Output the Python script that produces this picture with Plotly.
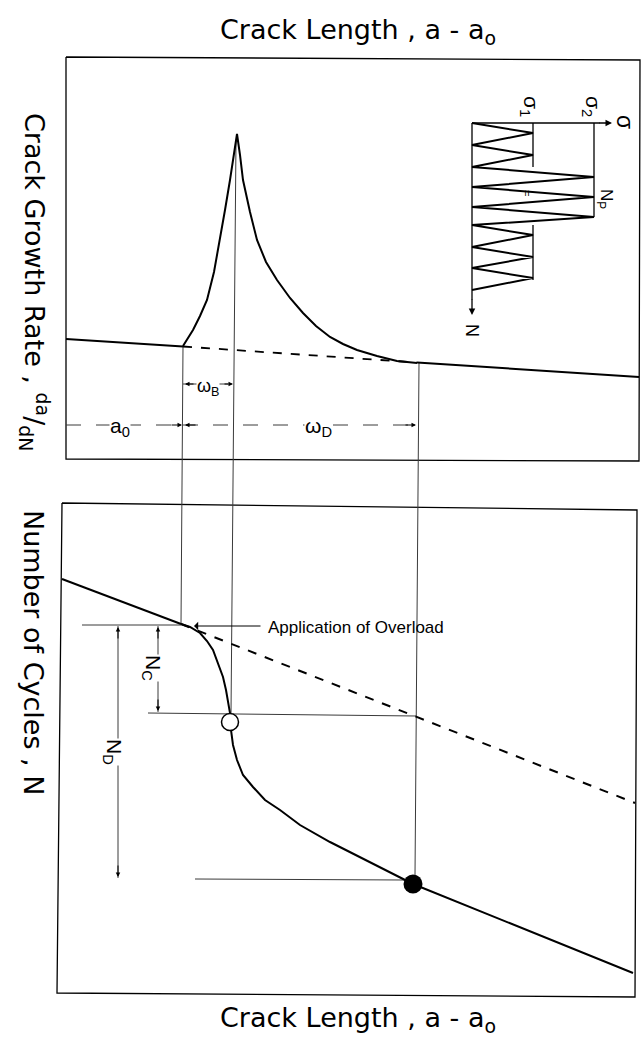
import plotly.graph_objects as go

# ---- drawing frame: both panels share one canvas, y grows downward ----
W, H = 644, 1042

# panel outlines
top_frame_x = [66, 640, 639, 66, 66]
top_frame_y = [57, 60, 461, 459, 57]
bot_frame_x = [62, 637, 635, 57, 62]
bot_frame_y = [503, 510, 997, 993, 503]

# upper panel: crack growth rate vs crack length
rate_steady_x = [66, 183, 417, 639]
rate_steady_y = [339, 346.5, 362.5, 377]
rate_transient_x = [183, 188, 193, 200, 207, 214, 220, 225, 230, 234, 237,
                    240, 243, 250, 257, 266, 277, 290, 303, 316, 330, 343,
                    357, 377, 397, 417]
rate_transient_y = [346, 338, 330, 316, 300, 272, 240, 210, 180, 155, 134,
                    155, 180, 212, 240, 262, 280, 298, 313, 326, 337, 344,
                    350, 356, 361, 363]

# lower panel: number of cycles vs crack length
cycles_pre_x = [62, 181]
cycles_pre_y = [579, 624]
cycles_extrap_x = [181, 635]
cycles_extrap_y = [624, 803]
cycles_retard_x = [181, 190, 200, 207, 213, 218, 223, 226, 228, 230, 231, 233,
                   237, 243, 253, 265, 280, 300, 330, 360, 390, 413, 633]
cycles_retard_y = [624, 627, 633, 641, 650, 663, 677, 690, 703, 713, 730, 745,
                   760, 775, 787, 800, 810, 825, 842, 857, 872, 884, 973]
delay_start = (230, 722)
delay_end = (413, 884)

# loading sequence sketch (stress across, cycles down)
load_x = [472, 533, 472, 533, 472, 594, 472, 594, 472, 594, 472,
          533, 472, 533, 472, 533, 472]
load_y = [123, 133, 145, 155, 167, 177, 187, 197, 207, 217, 225,
          235, 247, 257, 268, 278, 290]

INK = "black"
GUIDE = "#3a3a3a"
FONT = "Liberation Sans"
TITLE_FONT = "DejaVu Sans"

fig = go.Figure()


def line(xs, ys, width=1.0, color=INK, dash="solid"):
    fig.add_trace(go.Scatter(x=xs, y=ys, mode="lines",
                             line=dict(color=color, width=width, dash=dash),
                             hoverinfo="skip"))


def arrow(x, y, tx, ty, width=1.0, size=1.0, head=2):
    fig.add_annotation(x=x, y=y, ax=tx, ay=ty, xref="x", yref="y",
                       axref="x", ayref="y", text="", showarrow=True,
                       arrowhead=head, arrowsize=size, arrowwidth=width,
                       arrowcolor=INK)


def label(x, y, text, size=18, angle=0, bg=None, xanchor="center", family=FONT):
    fig.add_annotation(x=x, y=y, xref="x", yref="y", text=text,
                       showarrow=False, textangle=angle, xanchor=xanchor,
                       yanchor="middle",
                       font=dict(family=family, size=size, color=INK),
                       bgcolor=bg, borderpad=0)


# frames
line(top_frame_x, top_frame_y, width=1.3)
line(bot_frame_x, bot_frame_y, width=1.3)

# vertical guides linking the two panels
line([183, 181], [346, 624], color=GUIDE)
line([236, 231], [140, 713], color=GUIDE)
line([419, 415], [363, 875], color=GUIDE)

# horizontal guides in the lower panel
line([82, 181], [625, 625], color=GUIDE)
line([148, 416], [713, 716], color=GUIDE)
line([195, 405], [879, 880], color=GUIDE)

# upper panel curves
line(rate_steady_x[:2], rate_steady_y[:2], width=2)
line(rate_steady_x[1:3], rate_steady_y[1:3], width=1.8, dash="dash")
line(rate_steady_x[2:], rate_steady_y[2:], width=2)
line(rate_transient_x, rate_transient_y, width=2)

# lower panel curves
line(cycles_pre_x, cycles_pre_y, width=2)
line(cycles_extrap_x, cycles_extrap_y, width=2, dash="dash")
line(cycles_retard_x, cycles_retard_y, width=2)
fig.add_trace(go.Scatter(x=[delay_start[0]], y=[delay_start[1]], mode="markers",
                         marker=dict(symbol="circle", size=17, color="white",
                                     line=dict(color=INK, width=1.5)),
                         hoverinfo="skip"))
fig.add_trace(go.Scatter(x=[delay_end[0]], y=[delay_end[1]], mode="markers",
                         marker=dict(symbol="circle", size=19, color=INK),
                         hoverinfo="skip"))

# dimension lines in the upper panel
line([66, 183], [425, 425], color=GUIDE, dash="longdash")
line([183, 417], [425, 425], color=GUIDE, dash="longdash")
line([183, 234], [384, 384], color=GUIDE, dash="longdash")
arrow(182, 425, 170, 425, size=0.9)
arrow(185, 425, 197, 425, size=0.9)
arrow(416, 425, 404, 425, size=0.9)
arrow(185, 384, 195, 384, size=0.9)
arrow(233, 384, 223, 384, size=0.9)
label(120, 427, "a<sub>0</sub>", size=21, bg="white")
label(318, 427, "ω<sub>D</sub>", size=21, bg="white")
label(208, 387, "ω<sub>B</sub>", size=18, bg="white")

# dimension lines in the lower panel
line([158, 158], [626, 712], color=GUIDE)
line([118, 118], [626, 878], color=GUIDE)
arrow(158, 627, 158, 640, size=0.9)
arrow(158, 711, 158, 698, size=0.9)
arrow(118, 627, 118, 640, size=0.9)
arrow(118, 877, 118, 864, size=0.9)
label(152, 668, "N<sub>C</sub>", size=21, angle=90, bg="white")
label(113, 752, "N<sub>D</sub>", size=21, angle=90, bg="white")

# overload marker
arrow(194, 626, 262, 626, size=1.4, head=1)
label(267, 627, "Application of Overload", size=17, xanchor="left")

# loading sequence sketch
line(load_x, load_y, width=2)
line([472, 472], [123, 300], width=1.3)
arrow(472, 315, 472, 298, width=1.3, size=1)
line([472, 600], [123, 123], width=1.3)
arrow(612, 123, 598, 123, width=1.3, size=1)
line([533, 533], [123, 167], width=1.3)
line([533, 533], [225, 280], width=1.3)
line([594, 594], [123, 217], width=1.3)
label(530, 106, "σ<sub>1</sub>", size=21, angle=90)
label(592, 106, "σ<sub>2</sub>", size=21, angle=90)
label(625, 122, "σ", size=23, angle=90)
label(472, 330, "N", size=18, angle=90)
label(605, 199, "N<sub>P</sub>", size=17, angle=90)
label(527, 193, "=", size=11, angle=90)

# axis titles
label(358, 31, "Crack Length , a - a<sub>o</sub>", size=27, family=TITLE_FONT)
label(358, 1019, "Crack Length , a - a<sub>o</sub>", size=27, family=TITLE_FONT)
label(35, 282, "Crack Growth Rate , <sup>da</sup>/<sub>dN</sub>", size=27,
      angle=90, family=TITLE_FONT)
label(34, 652, "Number of Cycles , N", size=27, angle=90, family=TITLE_FONT)

fig.update_layout(
    width=W, height=H,
    margin=dict(l=0, r=0, t=0, b=0),
    paper_bgcolor="white", plot_bgcolor="white",
    showlegend=False,
    xaxis=dict(range=[0, W], visible=False, fixedrange=True),
    yaxis=dict(range=[H, 0], visible=False, fixedrange=True),
)

fig.write_html("out.html")
